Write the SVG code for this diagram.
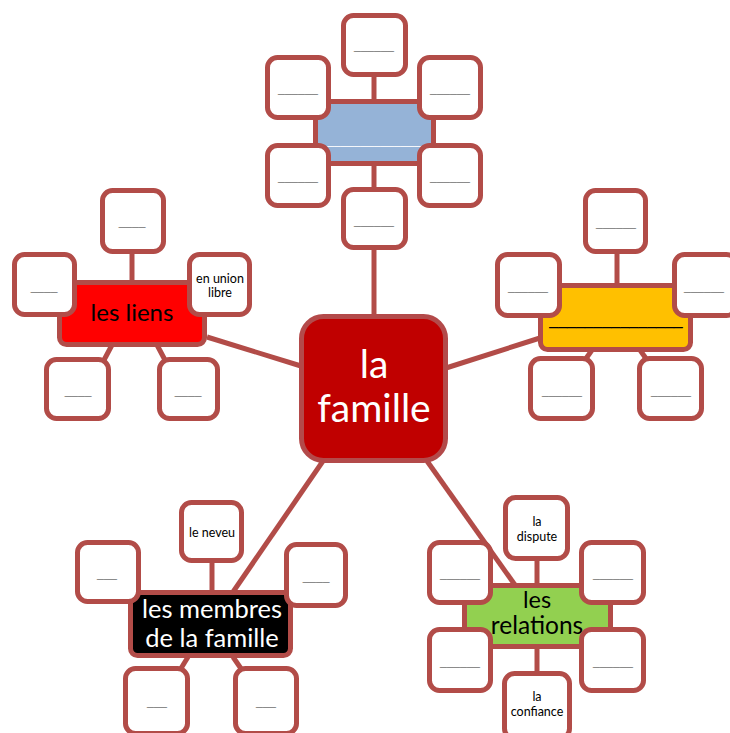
<svg xmlns="http://www.w3.org/2000/svg" width="730" height="733" viewBox="0 0 730 733">
<style>
.bx{fill:#fff;stroke:#b24c48;stroke-width:5}
.hub{stroke:#b24c48;stroke-width:5}
.ln{stroke:#b24c48;stroke-width:5;fill:none}
.u{font-family:"Liberation Sans",Arial,sans-serif;font-size:12px;fill:#808080;text-anchor:middle}
.t{font-family:Lato,"Open Sans",sans-serif;text-anchor:middle}
.s{font-family:Lato,"Open Sans",sans-serif;font-size:12.5px;fill:#000;text-anchor:middle}
</style>
<rect width="730" height="733" fill="#fff"/>
<g id="connectors">
<line class="ln" x1="374" y1="250" x2="374" y2="318"/>
<line class="ln" x1="207" y1="337" x2="301" y2="366"/>
<line class="ln" x1="446" y1="368" x2="540" y2="338"/>
<line class="ln" x1="323" y1="461" x2="233" y2="592"/>
<line class="ln" x1="427" y1="461" x2="515" y2="585"/>
<line class="ln" x1="374" y1="76" x2="374" y2="101"/>
<line class="ln" x1="374" y1="164" x2="374" y2="190"/>
<line class="ln" x1="132" y1="252" x2="132" y2="283"/>
<line class="ln" x1="104" y1="360" x2="112" y2="345"/>
<line class="ln" x1="157" y1="345" x2="165" y2="360"/>
<line class="ln" x1="617" y1="252" x2="617" y2="286"/>
<line class="ln" x1="585" y1="360" x2="592" y2="350"/>
<line class="ln" x1="640" y1="350" x2="647" y2="360"/>
<line class="ln" x1="212" y1="561" x2="212" y2="593"/>
<line class="ln" x1="180" y1="670" x2="188" y2="657"/>
<line class="ln" x1="233" y1="657" x2="242" y2="670"/>
<line class="ln" x1="537" y1="559" x2="537" y2="586"/>
<line class="ln" x1="537" y1="646" x2="537" y2="674"/>
</g>
<g id="hub-top">
<rect class="hub" x="315.5" y="101.5" width="118" height="62" rx="3" fill="#95b3d7"/>
<text x="374" y="144" class="u" style="fill:#fff">______________</text>
</g>
<g id="top-1"><rect class="bx" x="343.5" y="15.5" width="62" height="59" rx="10"/><text x="374" y="49" class="u">______</text></g>
<g id="top-2"><rect class="bx" x="267.5" y="57.5" width="61" height="60" rx="10"/><text x="298" y="92" class="u">______</text></g>
<g id="top-3"><rect class="bx" x="419.5" y="57.5" width="61" height="60" rx="10"/><text x="450" y="92" class="u">______</text></g>
<g id="top-4"><rect class="bx" x="267.5" y="145.5" width="61" height="60" rx="10"/><text x="298" y="180" class="u">______</text></g>
<g id="top-5"><rect class="bx" x="419.5" y="145.5" width="61" height="60" rx="10"/><text x="450" y="180" class="u">______</text></g>
<g id="top-6"><rect class="bx" x="343.5" y="189.5" width="62" height="58" rx="10"/><text x="374" y="224" class="u">______</text></g>

<g id="hub-liens">
<rect class="hub" x="59.5" y="282.5" width="145" height="62" rx="7" fill="#ff0000"/>
<text x="132" y="321" class="t" font-size="24" fill="#000">les liens</text>
</g>
<g id="liens-1"><rect class="bx" x="102.5" y="190.5" width="61" height="61" rx="10"/><text x="132" y="225" class="u">____</text></g>
<g id="liens-2"><rect class="bx" x="14.5" y="254.5" width="60" height="60" rx="10"/><text x="44" y="290" class="u">____</text></g>
<g id="liens-3"><rect class="bx" x="189.5" y="254.5" width="60" height="60" rx="10"/><text x="220" y="283" class="s">en union</text><text x="220" y="297" class="s">libre</text></g>
<g id="liens-4"><rect class="bx" x="46.5" y="359.5" width="62" height="59" rx="10"/><text x="78" y="394" class="u">____</text></g>
<g id="liens-5"><rect class="bx" x="159.5" y="359.5" width="58" height="59" rx="10"/><text x="188" y="394" class="u">____</text></g>

<g id="hub-right">
<rect class="hub" x="540.5" y="285.5" width="150" height="64" rx="7" fill="#ffc000"/>
<text x="616" y="325" class="u" style="fill:#000;font-size:16px">_______________</text>
</g>
<g id="right-1"><rect class="bx" x="585.5" y="190.5" width="60" height="61" rx="10"/><text x="616" y="226" class="u">______</text></g>
<g id="right-2"><rect class="bx" x="497.5" y="254.5" width="62" height="61" rx="10"/><text x="528" y="290" class="u">______</text></g>
<g id="right-3"><rect class="bx" x="674.5" y="254.5" width="62" height="61" rx="10"/><text x="704" y="290" class="u">______</text></g>
<g id="right-4"><rect class="bx" x="530.5" y="358.5" width="62" height="60" rx="10"/><text x="562" y="394" class="u">______</text></g>
<g id="right-5"><rect class="bx" x="639.5" y="358.5" width="62" height="60" rx="10"/><text x="671" y="394" class="u">______</text></g>

<g id="center">
<rect x="301.5" y="316.5" width="144" height="144" rx="22" fill="#c00000" stroke="#b34a4a" stroke-width="5"/>
<text x="374" y="378" class="t" font-size="39" fill="#fff">la</text>
<text x="374" y="422" class="t" font-size="39" fill="#fff">famille</text>
</g>

<g id="hub-membres">
<rect class="hub" x="130.5" y="592.5" width="160" height="63" rx="7" fill="#000"/>
<text x="212" y="618" class="t" font-size="25.5" fill="#fff">les membres</text>
<text x="212" y="647" class="t" font-size="25.5" fill="#fff">de la famille</text>
</g>
<g id="membres-1"><rect class="bx" x="181.5" y="502.5" width="60" height="58" rx="10"/><text x="212" y="537" class="s">le neveu</text></g>
<g id="membres-2"><rect class="bx" x="77.5" y="542.5" width="61" height="59" rx="10"/><text x="107" y="577" class="u">___</text></g>
<g id="membres-3"><rect class="bx" x="286.5" y="544.5" width="59" height="61" rx="10"/><text x="316" y="580" class="u">____</text></g>
<g id="membres-4"><rect class="bx" x="125.5" y="668.5" width="62" height="65" rx="10"/><text x="157" y="705" class="u">___</text></g>
<g id="membres-5"><rect class="bx" x="235.5" y="668.5" width="61" height="65" rx="10"/><text x="266" y="705" class="u">___</text></g>

<g id="hub-relations">
<rect class="hub" x="464.5" y="585.5" width="146" height="61" rx="3" fill="#92d050"/>
<text x="537" y="608" class="t" font-size="23.5" fill="#000">les</text>
<text x="537" y="634" class="t" font-size="24.5" fill="#000">relations</text>
</g>
<g id="relations-1"><rect class="bx" x="505.5" y="497.5" width="62" height="61" rx="10"/><text x="537" y="526" class="s">la</text><text x="537" y="541" class="s">dispute</text></g>
<g id="relations-2"><rect class="bx" x="429.5" y="542.5" width="61" height="60" rx="10"/><text x="460" y="577" class="u">______</text></g>
<g id="relations-3"><rect class="bx" x="581.5" y="542.5" width="62" height="60" rx="10"/><text x="613" y="577" class="u">______</text></g>
<g id="relations-4"><rect class="bx" x="429.5" y="629.5" width="61" height="61" rx="10"/><text x="460" y="665" class="u">______</text></g>
<g id="relations-5"><rect class="bx" x="581.5" y="629.5" width="62" height="61" rx="10"/><text x="613" y="665" class="u">______</text></g>
<g id="relations-6"><rect class="bx" x="504.5" y="673.5" width="65" height="65" rx="10"/><text x="537" y="701" class="s">la</text><text x="537" y="716" class="s">confiance</text></g>
</svg>
